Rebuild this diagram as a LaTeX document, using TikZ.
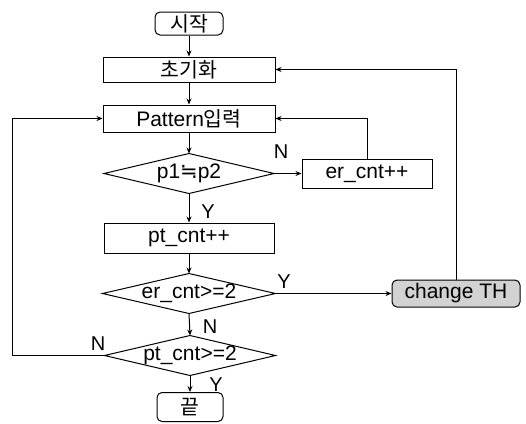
\documentclass[tikz,border=0pt]{standalone}
\usepackage{fontspec}
\setmainfont{Liberation Sans}
\newfontfamily\kr{Noto Sans CJK KR}
\newfontfamily\sym{DejaVu Sans}
\usetikzlibrary{arrows.meta}
\tikzset{
  base/.style={inner sep=0pt, font=\fontsize{21}{24}\selectfont, line width=1pt},
  proc/.style={base, draw, rectangle},
  term/.style={base, draw, rectangle, rounded corners=5pt},
  dec/.style={base, rectangle},
  lab/.style={inner sep=0pt, font=\fontsize{20}{22}\selectfont},
  arr/.style={line width=1pt, -{Stealth[length=6pt,width=5pt]}},
  ln/.style={line width=1pt}
}
\newcommand{\drawdiamond}[1]{\draw[ln] (#1.west) -- (#1.north) -- (#1.east) -- (#1.south) -- cycle;}
\newcommand{\krt}[1]{{\kr\fontsize{20.5}{23}\selectfont #1}}
\begin{document}
\begin{tikzpicture}[x=1pt,y=-1pt]
\useasboundingbox (0,0) rectangle (526,423);
\node[term, minimum width=68pt, minimum height=23pt] (start) at (189,23.5) {\krt{시작}};
\node[proc, minimum width=172pt, minimum height=25pt] (init) at (189,69.5) {\krt{초기화}};
\node[proc, minimum width=172pt, minimum height=27pt] (pat) at (189,118.5) {Pattern\krt{입력}};
\node[dec, minimum width=169pt, minimum height=39pt] (d1) at (189,173.5) {p1{\sym ≒}p2};
\drawdiamond{d1}
\node[proc, minimum width=130pt, minimum height=29pt] (er) at (367,173.5) {er\_cnt++};
\node[proc, minimum width=170pt, minimum height=30pt] (pt) at (189,238) {pt\_cnt++};
\node[dec, minimum width=172pt, minimum height=39pt] (d2) at (189,293.5) {er\_cnt>=2};
\drawdiamond{d2}
\node[term, fill=gray!35, minimum width=128pt, minimum height=27pt] (ch) at (456,293.5) {change TH};
\node[dec, minimum width=170pt, minimum height=39pt] (d3) at (190,355.5) {pt\_cnt>=2};
\drawdiamond{d3}
\node[term, minimum width=66pt, minimum height=29pt] (end) at (190,407) {\krt{끝}};
\coordinate (lx) at (12,355.5);
% main flow
\draw[arr] (start.south) -- (init.north);
\draw[arr] (init.south) -- (pat.north);
\draw[arr] (pat.south) -- (d1.north);
\draw[arr] (d1.south) -- (pt.north);
\draw[arr] (pt.south) -- (d2.north);
\draw[arr] (d2.south) -- (d3.north);
\draw[arr] (d3.south) -- (end.north);
% branches
\draw[arr] (d1.east) -- (er.west);
\draw[arr] (er.north) |- (pat.east);
\draw[arr] (d2.east) -- (ch.west);
\draw[arr] (ch.north) |- (init.east);
\draw[arr] (d3.west) -- (lx) |- (pat.west);
% labels
\node[lab] (n1) at (281,152) {N};
\node[lab] (y1) at (208,212) {Y};
\node[lab] (y2) at (284,282) {Y};
\node[lab] (n2) at (210,327) {N};
\node[lab] (n3) at (98,344) {N};
\node[lab] (y3) at (216,385) {Y};
\end{tikzpicture}
\end{document}
